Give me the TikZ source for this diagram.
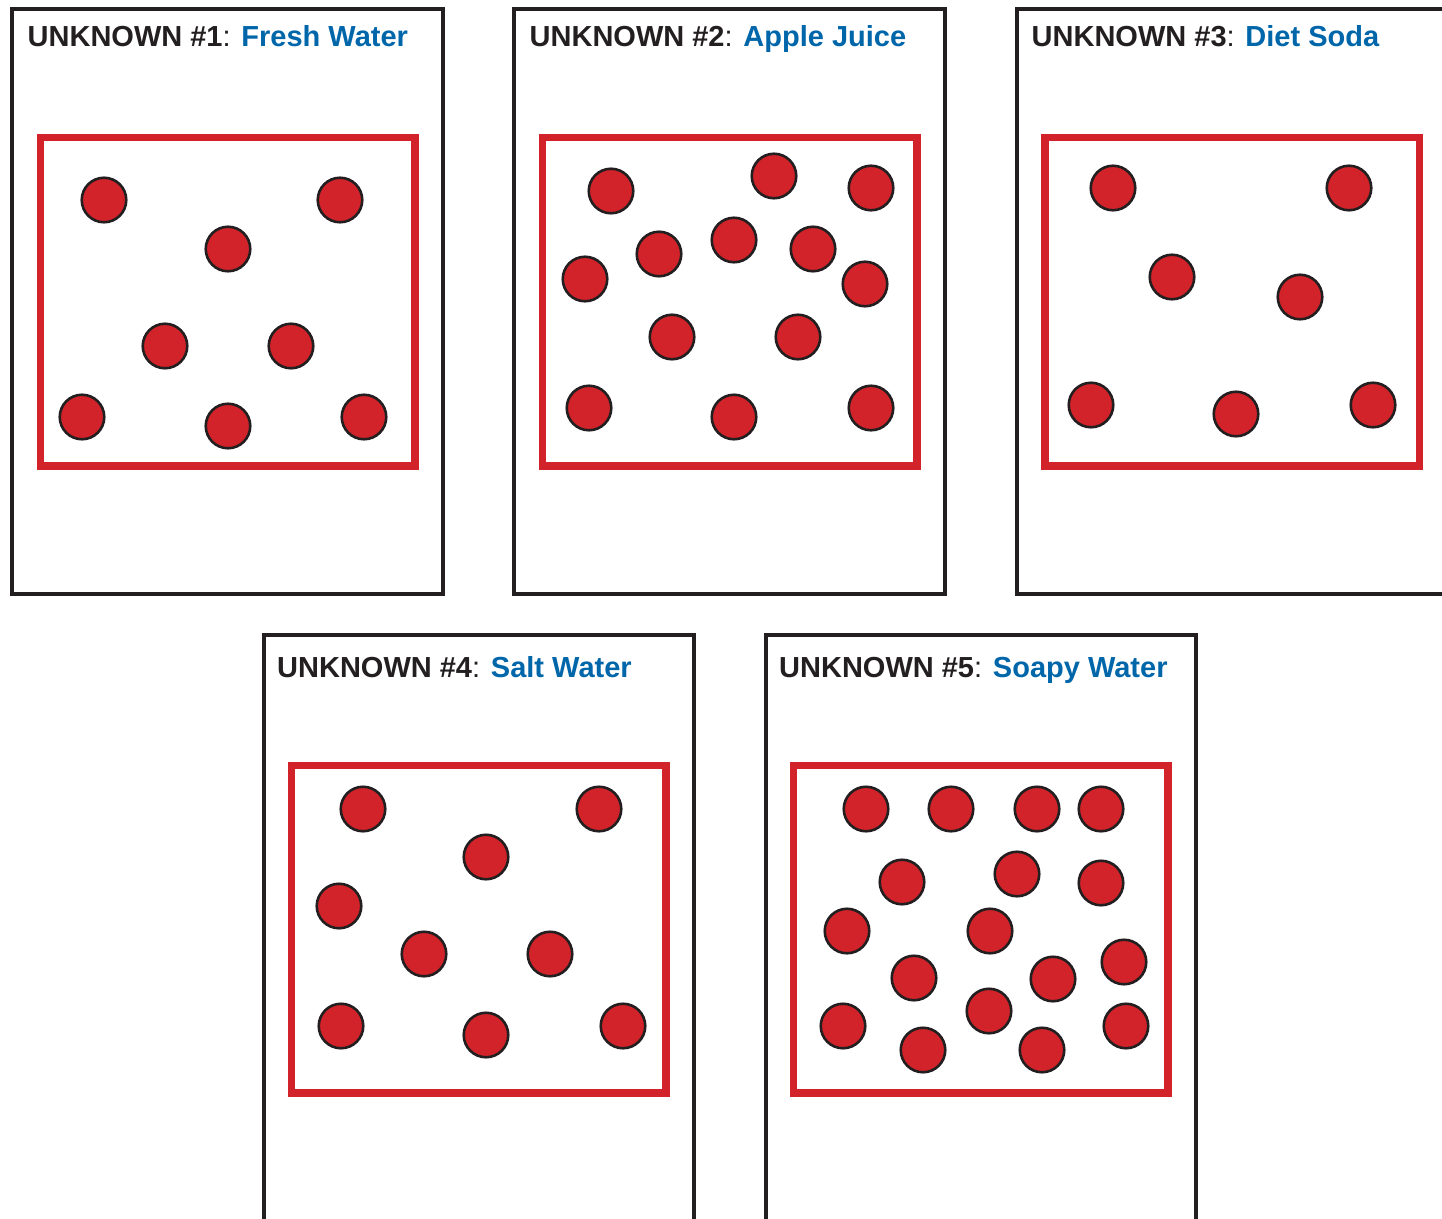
\documentclass[tikz,border=0pt]{standalone}
\usepackage{fontspec}
\setmainfont{Liberation Sans}
\definecolor{molred}{RGB}{210,35,42}
\definecolor{ttlblue}{RGB}{0,102,170}
\definecolor{inkblack}{RGB}{35,31,32}
\begin{document}
\begin{tikzpicture}[x=1pt,y=-1pt,
  panel/.style={draw=inkblack,line width=4pt},
  cup/.style={draw=molred,line width=7.5pt},
  mol/.style={circle,draw=inkblack,fill=molred,line width=2.6pt,minimum size=44.5pt,inner sep=0pt},
  ttl/.style={anchor=base west,inner sep=0pt,text=inkblack,font=\fontsize{29}{35}\selectfont}]
\useasboundingbox (0,0) rectangle (1442,1218);
\clip (0,0) rectangle (1442,1218);
\fill[white] (0,0) rectangle (1442,1218);
% panels
\draw[panel] (12,9) rectangle (443,594);
\draw[panel] (514,9) rectangle (945,594);
\draw[panel] (1017,9) rectangle (1460,594);
\draw[panel] (264,635) rectangle (694,1240);
\draw[panel] (766,635) rectangle (1196,1240);
% containers
\draw[cup] (40.5,137.5) rectangle (415,466);
\draw[cup] (542.5,137.5) rectangle (917,466);
\draw[cup] (1045,137.5) rectangle (1419.5,466);
\draw[cup] (291.5,765.5) rectangle (666,1093);
\draw[cup] (793.5,765.5) rectangle (1168,1093);
% titles
\node[ttl] (t1) at (27.5,46) {\textbf{UNKNOWN \#1}: \textcolor{ttlblue}{\textbf{Fresh Water}}};
\node[ttl] (t2) at (529.5,46) {\textbf{UNKNOWN \#2}: \textcolor{ttlblue}{\textbf{Apple Juice}}};
\node[ttl] (t3) at (1031.5,46) {\textbf{UNKNOWN \#3}: \textcolor{ttlblue}{\textbf{Diet Soda}}};
\node[ttl] (t4) at (277,677) {\textbf{UNKNOWN \#4}: \textcolor{ttlblue}{\textbf{Salt Water}}};
\node[ttl] (t5) at (779,677) {\textbf{UNKNOWN \#5}: \textcolor{ttlblue}{\textbf{Soapy Water}}};
% panel 1
\foreach \p [count=\i] in {(104,200),(340,200),(228,249),(165,346),(291,346),(82,417),(228,426),(364,417)}
  \node[mol] (a\i) at \p {};
% panel 2
\foreach \p [count=\i] in {(611,191),(774,176),(871,188),(585,279),(659,254),(734,240),(813,249),(865,284),(672,337),(798,337),(589,408),(734,417),(871,408)}
  \node[mol] (b\i) at \p {};
% panel 3
\foreach \p [count=\i] in {(1113,188),(1349,188),(1172,277),(1300,297),(1091,405),(1236,414),(1373,405)}
  \node[mol] (c\i) at \p {};
% panel 4
\foreach \p [count=\i] in {(363,809),(599,809),(486,857),(339,906),(424,954),(550,954),(341,1026),(486,1035),(623,1026)}
  \node[mol] (d\i) at \p {};
% panel 5
\foreach \p [count=\i] in {(866,809),(951,809),(1037,809),(1101,809),(902,882),(1017,874),(1101,883),(847,931),(990,931),(1124,962),(914,978),(1053,979),(843,1026),(989,1011),(1126,1026),(923,1050),(1042,1050)}
  \node[mol] (e\i) at \p {};
\end{tikzpicture}
\end{document}
